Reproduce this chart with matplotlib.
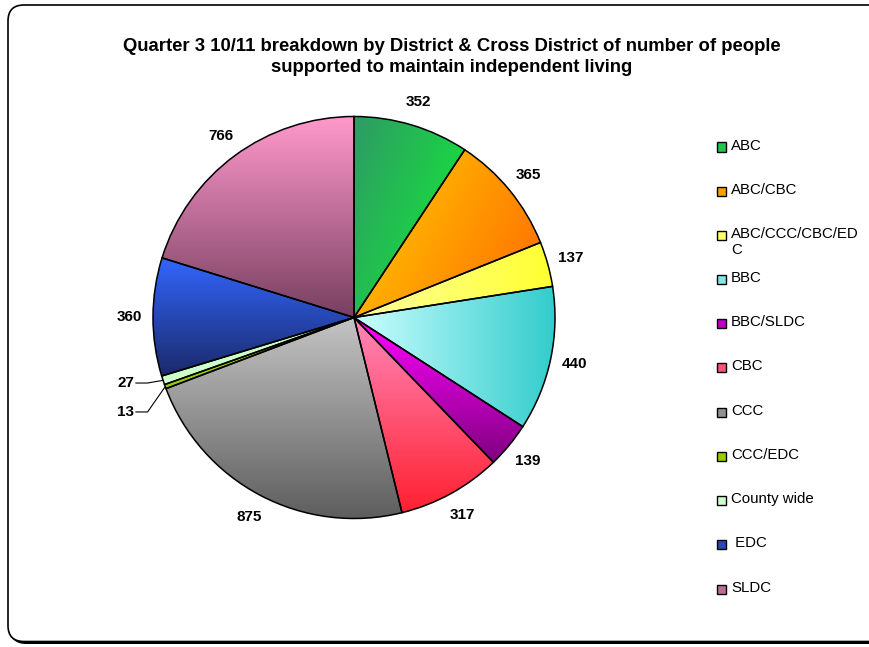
import numpy as np
import matplotlib.pyplot as plt
from matplotlib.patches import FancyBboxPatch, Rectangle
from matplotlib.colors import to_rgb

plt.rcParams['font.family'] = ['Liberation Sans', 'DejaVu Sans']

# === Data ===
districts = ["ABC", "ABC/CBC", "ABC/CCC/CBC/EDC", "BBC", "BBC/SLDC", "CBC",
             "CCC", "CCC/EDC", "County wide", "EDC", "SLDC"]
legend_labels = ["ABC", "ABC/CBC", "ABC/CCC/CBC/ED\nC", "BBC", "BBC/SLDC", "CBC",
                 "CCC", "CCC/EDC", "County wide", " EDC", "SLDC"]
people = [352, 365, 137, 440, 139, 317, 875, 13, 27, 360, 766]

# === Gradient fills: (start colour, end colour, direction in degrees) ===
fills = [
    ("#2f9a66", "#10f232", -35),
    ("#ffd000", "#ff6a00", -25),
    ("#ffffa0", "#ffff30", 0),
    ("#ccffff", "#33cccc", 0),
    ("#ff00ff", "#800080", -90),
    ("#ff88bb", "#ff2030", -90),
    ("#c4c4c4", "#5e5e5e", -90),
    ("#99cc00", "#99cc00", 0),
    ("#ccffcc", "#ccffcc", 0),
    ("#3366ff", "#1a2a6a", -90),
    ("#ff99cc", "#784060", -90),
]

W, H = 870, 647
fig = plt.figure(figsize=(W / 100, H / 100), dpi=100)

# === Frame with rounded corners and shadow ===
shadow = FancyBboxPatch((0.10, 0.03), 8.9, 6.37, boxstyle="round,pad=0,rounding_size=0.16",
                        transform=fig.dpi_scale_trans, facecolor="black", edgecolor="black",
                        lw=0, zorder=-2)
frame = FancyBboxPatch((0.08, 0.055), 8.9, 6.365, boxstyle="round,pad=0,rounding_size=0.16",
                       transform=fig.dpi_scale_trans, facecolor="white", edgecolor="black",
                       lw=1.2, zorder=-1)
fig.patches.extend([shadow, frame])

# === Pie axes (centre 354,317.5 px, radius 201 px) ===
cx, cy, r = 354, 317.5, 201
ax = fig.add_axes([(cx - r) / W, (H - cy - r) / H, 2 * r / W, 2 * r / H])
ax.set_axis_off()

wedges, texts = ax.pie(people, labels=[str(v) for v in people], startangle=90,
                       counterclock=False, labeldistance=1.12,
                       wedgeprops=dict(edgecolor="black", linewidth=1.1),
                       textprops=dict(fontsize=11, fontweight="bold"))

for w, (c0, c1, ang) in zip(wedges, fills):
    th = np.radians(np.linspace(w.theta1, w.theta2, 60))
    xs = np.r_[0, np.cos(th)]
    ys = np.r_[0, np.sin(th)]
    gx, gy = np.meshgrid(np.linspace(0, 1, 120), np.linspace(0, 1, 120))
    t = gx * np.cos(np.radians(ang)) + gy * np.sin(np.radians(ang))
    t = (t - t.min()) / max(t.max() - t.min(), 1e-9)
    a, b = np.array(to_rgb(c0)), np.array(to_rgb(c1))
    img = a + (b - a) * t[..., None]
    im = ax.imshow(img, extent=(xs.min(), xs.max(), ys.min(), ys.max()), origin="lower",
                   aspect="auto", interpolation="bilinear", zorder=2)
    im.set_clip_path(w)
    w.set_facecolor("none")
    w.set_zorder(3)

for t in texts:
    t.set_ha("center")

# small slices get leader lines
for i, ylab in [(7, -0.470), (8, -0.326)]:
    w = wedges[i]
    mid = np.radians((w.theta1 + w.theta2) / 2)
    ax.plot([np.cos(mid), -1.027, -1.085], [np.sin(mid), ylab, ylab],
            color="black", lw=0.8, clip_on=False, zorder=4)
    texts[i].set_position((-1.095, ylab))
    texts[i].set_ha("right")

ax.set_xlim(-1, 1)
ax.set_ylim(-1, 1)

# === Title ===
fig.text(452 / W, 1 - 57 / H,
         "Quarter 3 10/11 breakdown by District & Cross District of number of people\n"
         "supported to maintain independent living",
         ha="center", va="center", fontsize=13.3, fontweight="bold", linespacing=1.35)

# === Legend ===
for i, (lab, (c0, c1, ang)) in enumerate(zip(legend_labels, fills)):
    yc = 147 + i * 44.2
    sq = np.array(to_rgb(c0)) * 0.5 + np.array(to_rgb(c1)) * 0.5
    fig.patches.append(Rectangle((717 / W, 1 - (yc + 4.5) / H), 9 / W, 9 / H,
                                 transform=fig.transFigure, facecolor=sq,
                                 edgecolor="black", lw=1.0))
    fig.text(731 / W, 1 - (yc - 8.5) / H, lab, ha="left", va="top", fontsize=10.8,
             linespacing=1.2)

fig.savefig("out.png", dpi=100)
